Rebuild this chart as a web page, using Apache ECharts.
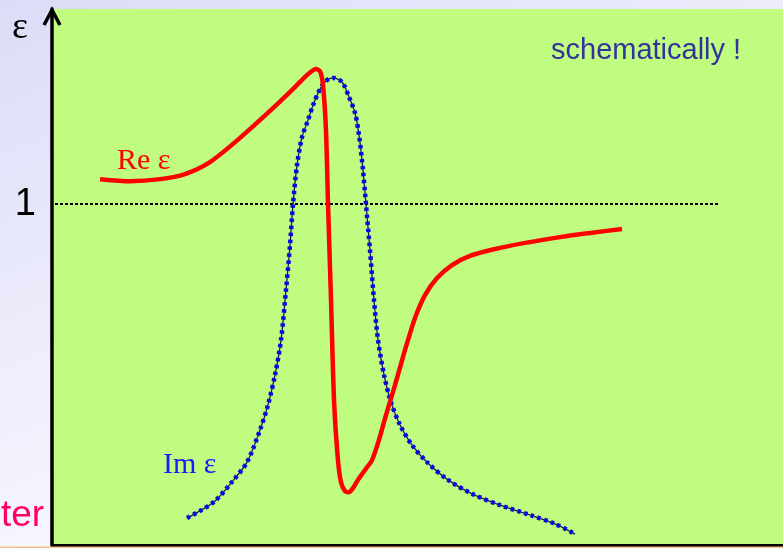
<!DOCTYPE html>
<html>
<head>
<meta charset="utf-8">
<script src="https://cdn.jsdelivr.net/npm/echarts@6/dist/echarts.min.js"></script>
<style>
  html, body { margin: 0; padding: 0; }
  #chart { width: 783px; height: 548px; }
</style>
</head>
<body>
<div id="chart"></div>
<script>
// Dielectric function near a resonance (schematic): frequency on x, epsilon on y.
// Real part of epsilon: [omega, Re eps]
const reEpsOmega = [0.657, 1.067, 1.477, 1.819, 2.161, 2.572, 2.982, 3.324, 3.502, 3.611, 3.666, 3.707, 3.748, 3.776, 3.817, 3.858, 3.912, 3.953, 4.008, 4.063, 4.118, 4.186, 4.282, 4.378, 4.473, 4.569, 4.692, 4.829, 4.966, 5.103, 5.267, 5.472, 5.718, 6.060, 6.471, 6.949, 7.360, 7.798];
const reEpsValues = [1.073, 1.067, 1.073, 1.088, 1.123, 1.194, 1.273, 1.343, 1.381, 1.396, 1.390, 1.349, 1.217, 1.000, 0.718, 0.425, 0.249, 0.185, 0.158, 0.155, 0.167, 0.191, 0.220, 0.249, 0.308, 0.381, 0.469, 0.572, 0.666, 0.733, 0.783, 0.821, 0.848, 0.868, 0.886, 0.903, 0.915, 0.927];

// Imaginary part of epsilon (absorption peak)
const imEpsOmega = [1.847, 2.025, 2.230, 2.462, 2.668, 2.845, 2.955, 3.051, 3.133, 3.201, 3.256, 3.297, 3.352, 3.420, 3.502, 3.571, 3.666, 3.748, 3.844, 3.967, 4.063, 4.145, 4.200, 4.254, 4.295, 4.350, 4.405, 4.460, 4.542, 4.637, 4.761, 4.925, 5.144, 5.417, 5.746, 6.129, 6.539, 6.881, 7.155];
const imEpsValues = [0.079, 0.100, 0.129, 0.185, 0.243, 0.337, 0.411, 0.499, 0.601, 0.748, 0.880, 1.000, 1.114, 1.196, 1.246, 1.290, 1.337, 1.361, 1.370, 1.358, 1.314, 1.267, 1.202, 1.100, 1.000, 0.865, 0.718, 0.601, 0.499, 0.419, 0.352, 0.293, 0.240, 0.191, 0.150, 0.117, 0.088, 0.062, 0.032];

// Reference level epsilon = 1
const unityLevel = 1;
const unityOmega = [0.041, 9.138];
const yTicks = [1];

const zip = (xs, ys) => xs.map((x, i) => [x, ys[i]]);

const chart = echarts.init(document.getElementById('chart'));
chart.setOption({
  animation: false,
  backgroundColor: {
    type: 'linear', x: 0, y: 0, x2: 0.3, y2: 1,
    colorStops: [
      { offset: 0, color: '#dcdcf8' },
      { offset: 1, color: '#fafaff' }
    ]
  },
  grid: {
    left: 52, right: 0, top: 9, bottom: 3,
    show: true, backgroundColor: '#c0fc80', borderWidth: 0
  },
  xAxis: {
    type: 'value', min: 0, max: 10,
    axisLine: { show: true, lineStyle: { color: '#000', width: 3 } },
    axisTick: { show: false }, axisLabel: { show: false }, splitLine: { show: false }
  },
  yAxis: {
    type: 'value', min: 0, max: 1.572, interval: 1,
    axisLine: { show: true, lineStyle: { color: '#000', width: 3.5 } },
    axisTick: { show: false }, splitLine: { show: false },
    axisLabel: {
      show: true, margin: 16, showMinLabel: false, showMaxLabel: false,
      fontFamily: 'Liberation Sans, Arial, sans-serif', fontSize: 38, color: '#000',
      padding: [4, 0, 0, 0],
      formatter: v => (yTicks.includes(v) ? String(v) : '')
    }
  },
  series: [
    {
      name: 'unity', type: 'line', silent: true, symbol: 'none',
      data: unityOmega.map(x => [x, unityLevel]),
      lineStyle: { color: '#000', width: 2, type: [3, 2] }, z: 2
    },
    {
      name: 'Im eps line', type: 'line', silent: true, symbol: 'none', smooth: 0.3,
      data: zip(imEpsOmega, imEpsValues),
      lineStyle: { color: '#1a1a40', width: 1.3 }, z: 3
    },
    {
      name: 'Im eps', type: 'line', silent: true, symbol: 'none', smooth: 0.3,
      data: zip(imEpsOmega, imEpsValues),
      lineStyle: { color: '#0a0ae0', width: 4.5, type: [3.5, 3.5], cap: 'butt' }, z: 4
    },
    {
      name: 'Re eps', type: 'line', silent: true, symbol: 'none', smooth: 0.25,
      data: zip(reEpsOmega, reEpsValues),
      lineStyle: { color: '#ff0000', width: 4.5 }, z: 5
    }
  ],
  graphic: [
    {
      type: 'polyline', z: 100,
      shape: { points: [[44, 25], [52, 10], [60, 25]] },
      style: { stroke: '#000', lineWidth: 3.5, fill: null, lineJoin: 'miter' }
    },
    {
      type: 'rect', z: 100,
      shape: { x: 0, y: 546.5, width: 783, height: 2 },
      style: { fill: '#f3c088' }
    },
    {
      type: 'text', x: 12, y: 9, z: 100,
      style: { text: 'ε', font: '38px "Liberation Serif", serif', fill: '#000' }
    },
    {
      type: 'text', x: 117, y: 146, z: 100,
      style: { text: 'Re ε', font: '30px "Liberation Serif", serif', fill: '#ff0000' }
    },
    {
      type: 'text', x: 163, y: 450, z: 100,
      style: { text: 'Im ε', font: '30px "Liberation Serif", serif', fill: '#1a1aff' }
    },
    {
      type: 'text', x: 551, y: 36, z: 100,
      style: { text: 'schematically !', font: '29px "Liberation Sans", Arial, sans-serif', fill: '#333399' }
    },
    {
      type: 'text', x: 1, y: 497, z: 100,
      style: { text: 'ter', font: '37px "Liberation Sans", Arial, sans-serif', fill: '#ff0066' }
    }
  ]
});
</script>
</body>
</html>
